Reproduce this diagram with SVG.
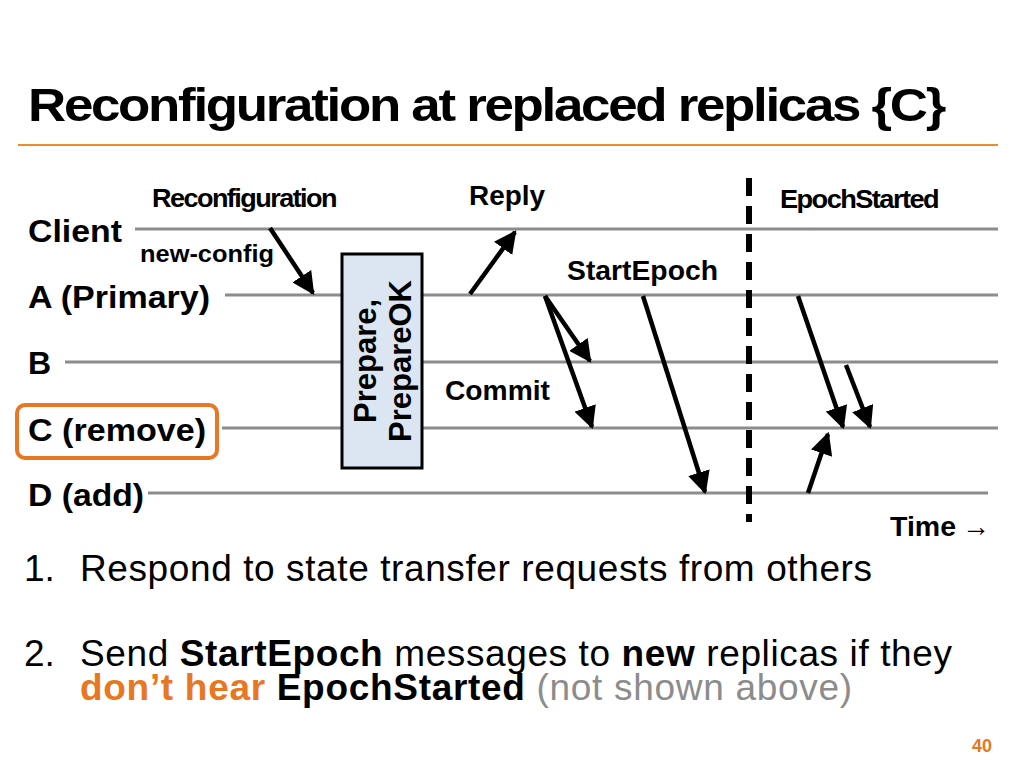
<svg xmlns="http://www.w3.org/2000/svg" width="1024" height="768" viewBox="0 0 1024 768">
<defs>
<marker id="ah" markerWidth="5" markerHeight="5" refX="4.5" refY="2.5" orient="auto" markerUnits="strokeWidth"><path d="M0,0 L5,2.5 L0,5 Z" fill="#000"/></marker>
<style>
text{font-family:"Liberation Sans",Arial,sans-serif;font-weight:bold;fill:#000}
.tl{stroke:#8c8c8c;stroke-width:3}
.ar{stroke:#000;stroke-width:4.5;marker-end:url(#ah)}
.n{font-weight:normal}
</style>
</defs>
<rect width="1024" height="768" fill="#fff"/>
<text x="28" y="121" font-size="46" letter-spacing="-2" textLength="916" lengthAdjust="spacingAndGlyphs">Reconfiguration at replaced replicas {C}</text>
<line x1="18" y1="145" x2="998" y2="145" stroke="#f08a2a" stroke-width="2"/>
<g id="timelines">
<line class="tl" x1="135" y1="229" x2="998" y2="229"/>
<line class="tl" x1="225" y1="295" x2="998" y2="295"/>
<line class="tl" x1="65" y1="362" x2="998" y2="362"/>
<line class="tl" x1="222" y1="428" x2="998" y2="428"/>
<line class="tl" x1="148" y1="493" x2="988" y2="493"/>
</g>
<g id="labels" font-size="32">
<text x="28" y="242" textLength="94" lengthAdjust="spacingAndGlyphs">Client</text>
<text x="28" y="308" textLength="182" lengthAdjust="spacingAndGlyphs">A (Primary)</text>
<text x="28" y="374">B</text>
<text x="28" y="441" textLength="178" lengthAdjust="spacingAndGlyphs">C (remove)</text>
<text x="28" y="506" textLength="116" lengthAdjust="spacingAndGlyphs">D (add)</text>
</g>
<g id="c-highlight"><rect x="17" y="405" width="200" height="53" rx="8" fill="none" stroke="#e87722" stroke-width="4"/></g>
<g id="prepare-box">
<rect x="342" y="254" width="80" height="214" fill="#dce6f2" stroke="#000" stroke-width="3"/>
<text transform="translate(376,361) rotate(-90)" text-anchor="middle" font-size="31">Prepare,</text>
<text transform="translate(411,361) rotate(-90)" text-anchor="middle" font-size="31">PrepareOK</text>
</g>
<line x1="749" y1="178" x2="749" y2="522" stroke="#000" stroke-width="6" stroke-dasharray="18,10"/>
<g id="connectors">
<line class="ar" x1="270" y1="228" x2="313" y2="293"/>
<line class="ar" x1="470" y1="294" x2="515" y2="232"/>
<line class="ar" x1="545" y1="296" x2="590" y2="361"/>
<line class="ar" x1="545" y1="296" x2="592" y2="427"/>
<line class="ar" x1="643" y1="296" x2="705" y2="492"/>
<line class="ar" x1="798" y1="296" x2="843" y2="427"/>
<line class="ar" x1="846" y1="365" x2="870" y2="427"/>
<line class="ar" x1="808" y1="493" x2="828" y2="434"/>
</g>
<g id="msg-labels">
<text x="152" y="207" font-size="26" letter-spacing="-1.5" textLength="184" lengthAdjust="spacingAndGlyphs">Reconfiguration</text>
<text x="140" y="262" font-size="23" textLength="134" lengthAdjust="spacingAndGlyphs">new-config</text>
<text x="469" y="205" font-size="27" textLength="76" lengthAdjust="spacingAndGlyphs">Reply</text>
<text x="567" y="280" font-size="28" textLength="151" lengthAdjust="spacingAndGlyphs">StartEpoch</text>
<text x="445" y="400" font-size="28" textLength="105" lengthAdjust="spacingAndGlyphs">Commit</text>
<text x="780" y="208" font-size="26" letter-spacing="-1.5" textLength="158" lengthAdjust="spacingAndGlyphs">EpochStarted</text>
<text x="890" y="536" font-size="27" textLength="66" lengthAdjust="spacingAndGlyphs">Time</text>
<text x="962" y="536" font-size="28">→</text>
</g>
<g id="body" font-size="37">
<text class="n" x="24" y="581">1.</text>
<text class="n" x="80" y="581" textLength="792">Respond to state transfer requests from others</text>
<text class="n" x="24" y="666">2.</text>
<text class="n" x="80" y="666" textLength="872">Send <tspan font-weight="bold">StartEpoch</tspan> messages to <tspan font-weight="bold">new</tspan> replicas if they</text>
<text class="n" x="80" y="700" textLength="772"><tspan font-weight="bold" style="fill:#e87722">don’t hear</tspan> <tspan font-weight="bold">EpochStarted</tspan> <tspan style="fill:#8c8c8c">(not shown above)</tspan></text>
</g>
<text x="972" y="752" font-size="18" style="fill:#e87722">40</text>
</svg>
